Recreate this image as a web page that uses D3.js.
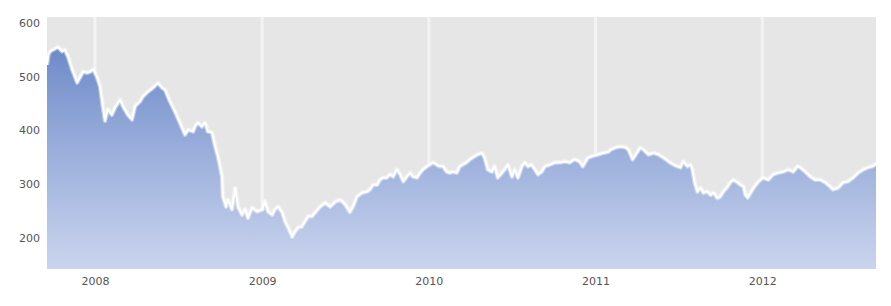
<!DOCTYPE html>
<html>
<head>
<meta charset="utf-8">
<script src="https://cdn.jsdelivr.net/npm/d3@7"></script>
<style>
  body { margin: 0; background: #fff; }
  svg { display: block; }
  .tick-lbl { font-family: "DejaVu Sans", Verdana, sans-serif; font-size: 11px; fill: #555; }
</style>
</head>
<body>
<svg id="chart" width="891" height="306"></svg>
<script>
// closing prices
const dates = [
  '2007-09-18','2007-09-21','2007-09-25','2007-10-12','2007-10-21','2007-10-27','2007-11-03','2007-11-12',
  '2007-11-23','2007-11-29','2007-12-06','2007-12-15','2007-12-21','2007-12-28',
  '2008-01-05','2008-01-12','2008-01-18','2008-01-23','2008-01-29','2008-02-07','2008-02-14','2008-02-25',
  '2008-03-02','2008-03-13','2008-03-22','2008-03-29','2008-04-09','2008-04-15','2008-04-26','2008-05-07',
  '2008-05-18','2008-05-27','2008-06-02','2008-06-13','2008-06-24','2008-07-05','2008-07-16','2008-07-23',
  '2008-08-03','2008-08-07','2008-08-13','2008-08-22','2008-08-29','2008-09-04','2008-09-13','2008-09-20',
  '2008-09-26','2008-10-05','2008-10-07','2008-10-14','2008-10-18','2008-10-27','2008-11-03','2008-11-09',
  '2008-11-18','2008-11-25','2008-12-01','2008-12-10','2008-12-21',
  '2009-01-02','2009-01-07','2009-01-14','2009-01-23','2009-01-29','2009-02-05','2009-02-14','2009-02-20',
  '2009-02-27','2009-03-08','2009-03-14','2009-03-21','2009-03-29','2009-04-05','2009-04-12','2009-04-20',
  '2009-04-27','2009-05-08','2009-05-19','2009-05-30','2009-06-10','2009-06-21','2009-07-02','2009-07-12',
  '2009-07-19','2009-07-28','2009-08-08','2009-08-19','2009-08-25','2009-09-01','2009-09-10','2009-09-16',
  '2009-09-23','2009-10-01','2009-10-08','2009-10-15','2009-10-23','2009-10-30','2009-11-06','2009-11-14',
  '2009-11-21','2009-11-27','2009-12-06','2009-12-13','2009-12-19','2009-12-28',
  '2010-01-03','2010-01-10','2010-01-18','2010-01-25','2010-02-01','2010-02-09','2010-02-16','2010-02-22',
  '2010-03-03','2010-03-10','2010-03-16','2010-03-24','2010-04-01','2010-04-12','2010-04-18','2010-04-27',
  '2010-05-03','2010-05-10','2010-05-19','2010-05-25','2010-06-01','2010-06-10','2010-06-16','2010-06-23',
  '2010-07-02','2010-07-08','2010-07-15','2010-07-24','2010-07-30','2010-08-06','2010-08-14','2010-08-21',
  '2010-08-28','2010-09-05','2010-09-12','2010-09-23','2010-10-04','2010-10-15','2010-10-26','2010-11-05',
  '2010-11-16','2010-11-27','2010-12-04','2010-12-15','2010-12-26',
  '2011-01-07','2011-01-18','2011-01-29','2011-02-03','2011-02-14','2011-02-25','2011-03-08','2011-03-14',
  '2011-03-23','2011-04-03','2011-04-09','2011-04-16','2011-04-27','2011-05-08','2011-05-19','2011-05-30',
  '2011-06-10','2011-06-21','2011-06-29','2011-07-06','2011-07-12','2011-07-21','2011-07-28','2011-08-01',
  '2011-08-06','2011-08-12','2011-08-19','2011-08-25','2011-09-03','2011-09-10','2011-09-16','2011-09-25',
  '2011-10-01','2011-10-08','2011-10-17','2011-10-23','2011-10-30','2011-11-08','2011-11-14','2011-11-21',
  '2011-11-25','2011-11-30','2011-12-13','2011-12-24',
  '2012-01-03','2012-01-14','2012-01-25','2012-02-05','2012-02-16','2012-02-27','2012-03-09','2012-03-18',
  '2012-03-24','2012-04-04','2012-04-15','2012-04-26','2012-05-07','2012-05-18','2012-05-29','2012-06-04',
  '2012-06-15','2012-06-26','2012-07-07','2012-07-18','2012-07-29','2012-08-09','2012-08-20','2012-08-29',
  '2012-09-04','2012-09-06'
];
const prices = [
  522, 540, 547, 555, 547, 550, 537, 513,
  489, 498, 509, 507, 509, 513,
  500, 482, 445, 418, 439, 429, 442, 457,
  445, 429, 420, 445, 454, 463, 472, 479,
  488, 479, 476, 454, 435, 414, 392, 401,
  398, 407, 414, 407, 414, 398, 396, 370,
  352, 315, 277, 258, 271, 253, 293, 258,
  243, 253, 237, 256, 249,
  253, 268, 249, 243, 253, 258, 247, 231,
  219, 202, 212, 219, 221, 231, 240, 240,
  247, 258, 265, 258, 267, 271, 262, 248,
  258, 277, 284, 286, 290, 299, 299, 308,
  312, 312, 318, 314, 327, 318, 305, 314,
  321, 314, 312, 321, 327, 333, 336,
  340, 336, 333, 333, 323, 321, 323, 321,
  333, 336, 340, 346, 352, 355, 358, 349,
  327, 323, 333, 312, 321, 327, 336, 314,
  327, 312, 333, 340, 333, 336, 327, 318,
  323, 333, 336, 340, 340, 342, 340, 346,
  342, 333, 349, 352, 355,
  358, 360, 364, 368, 370, 368, 364, 346,
  360, 368, 364, 355, 358, 355, 349, 342,
  336, 333, 331, 342, 333, 336, 327, 303,
  286, 293, 284, 286, 280, 284, 274, 277,
  286, 295, 303, 308, 303, 299, 295, 280,
  275, 293, 305, 312,
  308, 318, 321, 323, 327, 323, 333, 331,
  323, 314, 308, 308, 303, 295, 290, 293,
  303, 305, 312, 321, 327, 331, 333, 336,
  340, 338
];
const yTicks = [200, 300, 400, 500, 600];
const yMin = 142, yMax = 611;

const W = 891, H = 306;
const m = { top: 17, right: 15, bottom: 37, left: 47 };
const parse = d3.timeParse('%Y-%m-%d');
const data = dates.map((d, i) => ({ date: parse(d), value: prices[i] }));

const svg = d3.select('#chart');
const x = d3.scaleTime().domain(d3.extent(data, d => d.date)).range([m.left, W - m.right]);
const y = d3.scaleLinear().domain([yMin, yMax]).range([H - m.bottom, m.top]);

const defs = svg.append('defs');
const grad = defs.append('linearGradient').attr('id', 'fillGrad')
  .attr('gradientUnits', 'userSpaceOnUse')
  .attr('x1', 0).attr('x2', 0).attr('y1', m.top).attr('y2', H - m.bottom);
grad.append('stop').attr('offset', '0%').attr('stop-color', '#6180c2');
grad.append('stop').attr('offset', '55%').attr('stop-color', '#9cb0dc');
grad.append('stop').attr('offset', '100%').attr('stop-color', '#cad4ed');

// plot background
svg.append('rect')
  .attr('x', m.left).attr('y', m.top)
  .attr('width', W - m.right - m.left).attr('height', H - m.bottom - m.top)
  .attr('fill', '#e6e6e6');

// year gridlines
const years = x.ticks(d3.timeYear.every(1));
svg.append('g').selectAll('line').data(years).join('line')
  .attr('x1', d => x(d)).attr('x2', d => x(d))
  .attr('y1', m.top).attr('y2', H - m.bottom)
  .attr('stroke', '#f3f3f3').attr('stroke-width', 3);

const area = d3.area()
  .x(d => x(d.date)).y0(H - m.bottom).y1(d => y(d.value));
const line = d3.line()
  .x(d => x(d.date)).y(d => y(d.value));

svg.append('path').datum(data).attr('d', area).attr('fill', 'url(#fillGrad)');
// soft halo + white line
svg.append('path').datum(data).attr('d', line)
  .attr('fill', 'none').attr('stroke', '#fff').attr('stroke-opacity', 0.45).attr('stroke-width', 4.5)
  .attr('stroke-linejoin', 'round');
svg.append('path').datum(data).attr('d', line)
  .attr('fill', 'none').attr('stroke', '#fff').attr('stroke-width', 2)
  .attr('stroke-linejoin', 'round');

// axes, labels only
const yAxis = d3.axisLeft(y).tickValues(yTicks).tickSize(0).tickPadding(7);
svg.append('g').attr('transform', `translate(${m.left},0)`).call(yAxis)
  .call(g => g.select('.domain').remove())
  .selectAll('text').attr('class', 'tick-lbl').attr('fill', '#555');

const xAxis = d3.axisBottom(x).tickValues(years).tickFormat(d3.timeFormat('%Y')).tickSize(0).tickPadding(8);
svg.append('g').attr('transform', `translate(0,${H - m.bottom})`).call(xAxis)
  .call(g => g.select('.domain').remove())
  .selectAll('text').attr('class', 'tick-lbl').attr('fill', '#555');

svg.selectAll('.tick-lbl').attr('font-family', null).attr('font-size', null);
svg.selectAll('g[font-family]').attr('font-family', null).attr('font-size', null);
</script>
</body>
</html>
